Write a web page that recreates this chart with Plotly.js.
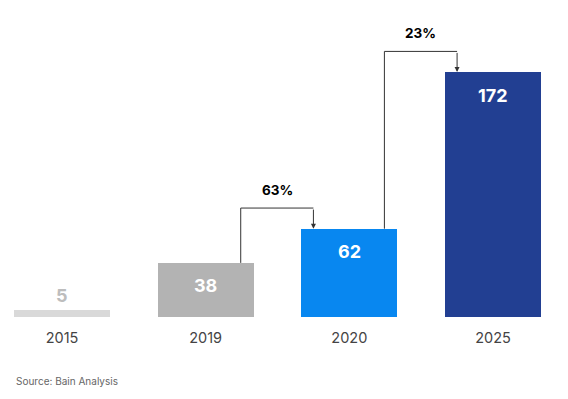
<!DOCTYPE html>
<html><head><meta charset="utf-8">
<script src="https://cdn.plot.ly/plotly-3.0.1.min.js"></script>
<style>html,body{margin:0;padding:0;background:#fff}#c{width:568px;height:399px}</style>
</head><body><div id="c"></div>
<script>
const categories = ["2015", "2019", "2020", "2025"];
const values = [5, 38, 62, 172];
const barColors = ["#d9d9d9", "#b3b3b3", "#0887f0", "#223f92"];
const growthLabels = [null, null, "63%", "23%"]; // growth from previous bar
const source = "Source: Bain Analysis";

const FONT = "Inter, 'Open Sans', sans-serif";
const xs = categories.map((c, i) => i);

const trace = {
  type: "bar", x: xs, y: values,
  marker: {color: barColors, line: {width: 0}},
  width: 0.668, hoverinfo: "none", showlegend: false
};

const annotations = [];
const shapes = [];
values.forEach((v, i) => {
  const small = i === 0;
  annotations.push({
    x: xs[i], y: v, xref: "x", yref: "y", text: "<b>" + v + "</b>", showarrow: false,
    yshift: small ? 14 : -23, font: {family: FONT, size: 18, color: small ? "#bdbdbd" : "#ffffff"}
  });
});
const lineC = "#333333";
const bracketGap = 14.5; // data units above target bar
growthLabels.forEach((g, i) => {
  if (!g) return;
  const x0 = xs[i - 1] + 0.244, x1 = xs[i] - 0.25;
  const yTop = values[i] + bracketGap;
  shapes.push({type: "line", xref: "x", yref: "y", x0: x0, x1: x0, y0: values[i - 1], y1: yTop, line: {color: lineC, width: 1}});
  shapes.push({type: "line", xref: "x", yref: "y", x0: x0, x1: x1, y0: yTop, y1: yTop, line: {color: lineC, width: 1}});
  annotations.push({x: x1, y: values[i], xref: "x", yref: "y", ax: x1, ay: yTop, axref: "x", ayref: "y",
    showarrow: true, arrowhead: 2, arrowsize: 1, arrowwidth: 1, arrowcolor: lineC, text: "", standoff: 0});
  annotations.push({x: (x0 + x1) / 2, y: yTop, xref: "x", yref: "y", text: "<b>" + g + "</b>", showarrow: false,
    yshift: 18, font: {family: FONT, size: 13.5, color: "#000"}});
});
annotations.push({xref: "paper", yref: "paper", x: 0, y: 0, xanchor: "left", yanchor: "middle",
  xshift: 14, yshift: -64, text: source, showarrow: false, font: {family: FONT, size: 10, color: "#666"}});

const pxPerCat = 143.67;
const r0 = -62 / pxPerCat;
const layout = {
  width: 568, height: 399, margin: {l: 0, r: 0, t: 0, b: 82},
  paper_bgcolor: "#fff", plot_bgcolor: "#fff",
  xaxis: {range: [r0, r0 + 568 / pxPerCat], tickvals: xs, ticktext: categories, showgrid: false, zeroline: false,
    showline: false, ticks: "", tickfont: {family: FONT, size: 14.5, color: "#444"}, ticklabelstandoff: 10, fixedrange: true},
  yaxis: {range: [0, 317 / 1.424], visible: false, fixedrange: true},
  shapes: shapes, annotations: annotations, bargap: 0
};
Plotly.newPlot("c", [trace], layout, {displayModeBar: false, staticPlot: true});
</script></body></html>
